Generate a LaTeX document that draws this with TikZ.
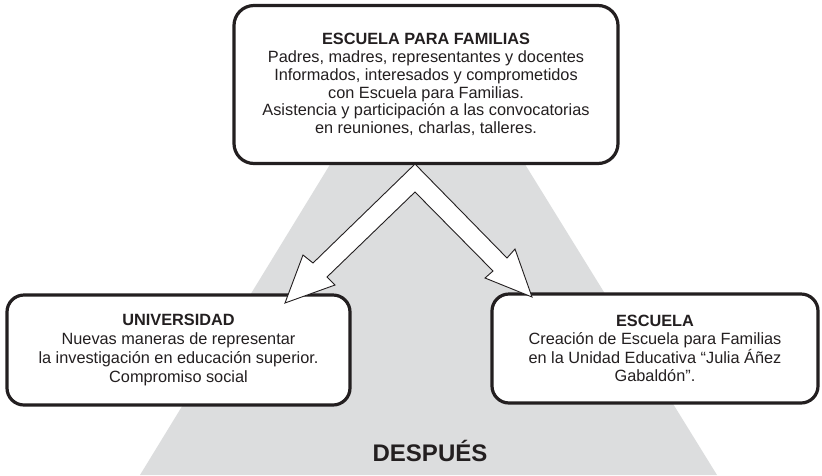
\documentclass[tikz,border=0pt]{standalone}
\usepackage{fontspec}
\setmainfont{Liberation Sans}
\definecolor{bggray}{RGB}{220,221,222}
\definecolor{ink}{RGB}{35,31,32}
\begin{document}
\begin{tikzpicture}[x=1pt,y=-1pt,
  box/.style={draw=ink, line width=3.2pt, rounded corners=20pt, fill=white,
    inner sep=0pt, align=center, text=ink, font=\fontsize{16.3}{17.7}\selectfont},
  blockarrow/.style={draw=ink, line width=0.9pt, fill=white, line join=miter}]
\useasboundingbox (0,0) rectangle (822,475);
\fill[white] (0,0) rectangle (822,475);
% grey trapezoid
\fill[bggray] (345,140) -- (510,140) -- (717,475) -- (140,475) -- cycle;
% top box
\node[box, minimum width=384pt, minimum height=158pt] (top) at (426,84.5)
  {\textbf{ESCUELA PARA FAMILIAS}\\
   Padres, madres, representantes y docentes\\
   Informados, interesados y comprometidos\\
   con Escuela para Familias.\\
   Asistencia y participación a las convocatorias\\
   en reuniones, charlas, talleres.};
% left box
\node[box, minimum width=343pt, minimum height=110pt, rounded corners=17pt,
  font=\fontsize{16.3}{18.7}\selectfont] (uni) at (178.5,350)
  {\textbf{UNIVERSIDAD}\\
   Nuevas maneras de representar\\
   la investigación en educación superior.\\
   Compromiso social};
% right box
\node[box, minimum width=326pt, minimum height=109pt, rounded corners=17pt,
  font=\fontsize{16.3}{18.3}\selectfont] (esc) at (655,348.5)
  {\textbf{ESCUELA}\\
   Creación de Escuela para Familias\\
   en la Unidad Educativa “Julia Áñez\\
   Gabaldón”.};
% block arrows from top box to the two lower boxes
\coordinate (apex) at (415,164);
\draw[blockarrow] (apex) -- (313,263) -- (303,255) -- (285,303) -- (335,285)
  -- (327,277) -- (415,192) -- (493,271) -- (485,278) -- (532,297)
  -- (515,249) -- (507,258) -- cycle;
% title
\node[text=ink, font=\fontsize{24}{24}\bfseries\selectfont, inner sep=0pt,
  anchor=base] (despues) at (430,461) {DESPUÉS};
\end{tikzpicture}
\end{document}
